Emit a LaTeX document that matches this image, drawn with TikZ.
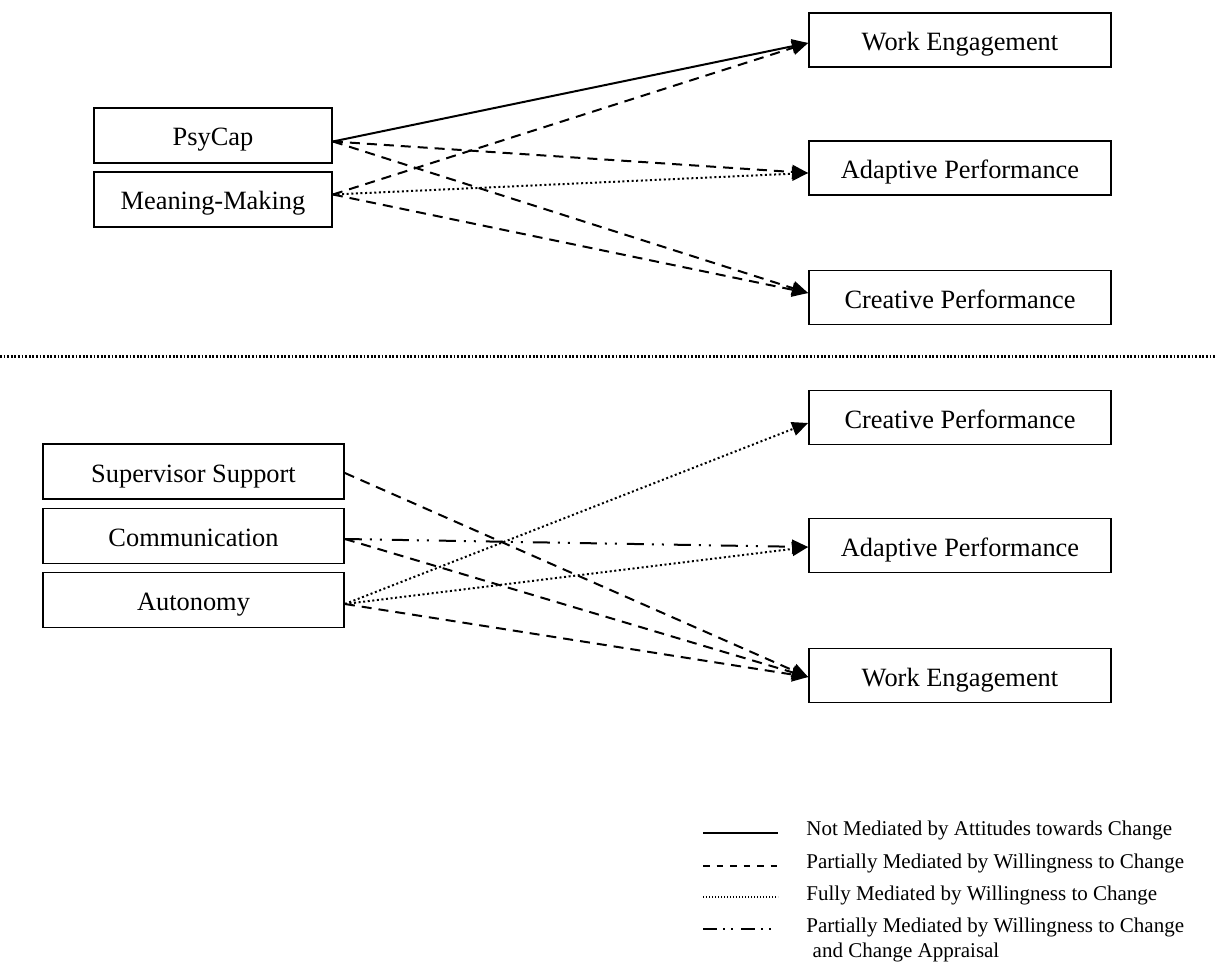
\documentclass[tikz,border=0pt]{standalone}
\usepackage{fontspec}
\setmainfont{Liberation Serif}
\usetikzlibrary{arrows.meta,calc}
\begin{document}
\begin{tikzpicture}[x=0.5pt,y=-0.5pt,
 box/.style={draw,line width=0.9pt,inner sep=0pt,text height=12.5pt,text depth=2pt,font=\fontsize{13.2}{15}\selectfont},
 lbox/.style={box,minimum width=119pt,minimum height=27.5pt},
 rbox/.style={box,minimum width=151pt,minimum height=27pt},
 bbox/.style={box,minimum width=150.5pt,minimum height=27.5pt},
 arr/.style={-{Triangle[length=8pt,width=7pt]}},
 solidln/.style={line width=1pt},
 dashln/.style={line width=1pt,dash pattern=on 5pt off 3.5pt},
 dotln/.style={line width=1pt,dash pattern=on 1pt off 1.3pt},
 dddln/.style={line width=1pt,dash pattern=on 8.5pt off 4pt on 1pt off 4pt on 1pt off 5pt},
 sepln/.style={line width=1.5pt,dash pattern=on 0.9pt off 0.9pt},
 legsolid/.style={line width=1pt},
 legdash/.style={line width=1pt,dash pattern=on 3.25pt off 3.5pt},
 legdot/.style={line width=0.7pt,dash pattern=on 0.6pt off 0.9pt},
 legddd/.style={line width=1pt,dash pattern=on 7pt off 3pt on 1pt off 3pt on 1pt off 4pt},
 legtext/.style={anchor=west,inner sep=0pt,font=\fontsize{10.5}{12.5}\selectfont,align=left}
]
\useasboundingbox (0,0) rectangle (1217,963);

% top section
\node[lbox] (psy) at (213,135.5) {PsyCap};
\node[lbox] (mm) at (213,199.5) {Meaning-Making};
\node[rbox] (we1) at (960,40) {Work Engagement};
\node[rbox] (ap1) at (960,168) {Adaptive Performance};
\node[rbox] (cp1) at (960,297.5) {Creative Performance};

\coordinate (psyo) at ($(psy.east)+(0,6)$);
\coordinate (mmo) at ($(mm.east)+(0,-5)$);
\coordinate (we1i) at ($(we1.west)+(0,3)$);
\coordinate (ap1i) at ($(ap1.west)+(0,5)$);
\coordinate (cp1i) at ($(cp1.west)+(0,-4.5)$);

\draw[arr,solidln] (psyo) -- (we1i);
\draw[arr,dashln] (mmo) -- (we1i);
\draw[arr,dashln] (psyo) -- (ap1i);
\draw[arr,dotln] (mmo) -- (ap1i);
\draw[arr,dashln] (psyo) -- (cp1i);
\draw[arr,dashln] (mmo) -- (cp1i);

% separator
\coordinate (sepL) at (0,356);
\coordinate (sepR) at (1217,356);
\draw[sepln] (sepL) -- (sepR);

% bottom section
\node[bbox] (ss) at (193.5,471.5) {Supervisor Support};
\node[bbox] (com) at (193.5,536) {Communication};
\node[bbox] (aut) at (193.5,600) {Autonomy};
\node[rbox] (cp2) at (960,417.5) {Creative Performance};
\node[rbox] (ap2) at (960,545.5) {Adaptive Performance};
\node[rbox] (we2) at (960,675.5) {Work Engagement};

\coordinate (sso) at ($(ss.east)+(0,1.5)$);
\coordinate (como) at ($(com.east)+(0,3)$);
\coordinate (auo) at ($(aut.east)+(0,4)$);
\coordinate (cp2i) at ($(cp2.west)+(0,5.5)$);
\coordinate (ap2i) at ($(ap2.west)+(0,1.5)$);
\coordinate (we2i) at ($(we2.west)+(0,1.5)$);

\draw[arr,dashln] (sso) -- (we2i);
\draw[arr,dddln] (como) -- (ap2i);
\draw[arr,dashln] (como) -- (we2i);
\draw[arr,dotln] (auo) -- (cp2i);
\draw[arr,dotln] (auo) -- (ap2i);
\draw[arr,dashln] (auo) -- (we2i);

% legend
\coordinate (l1a) at (703,833); \coordinate (l1b) at (778,833);
\coordinate (l2a) at (703,866); \coordinate (l2b) at (778,866);
\coordinate (l3a) at (703,897); \coordinate (l3b) at (778,897);
\coordinate (l4a) at (703,929); \coordinate (l4b) at (778,929);
\draw[legsolid] (l1a) -- (l1b);
\draw[legdash] (l2a) -- (l2b);
\draw[legdot] (l3a) -- (l3b);
\draw[legddd] (l4a) -- (l4b);

\node[legtext] (t1) at (806,830) {Not Mediated by Attitudes towards Change};
\node[legtext] (t2) at (806,863) {Partially Mediated by Willingness to Change};
\node[legtext] (t3) at (806,895) {Fully Mediated by Willingness to Change};
\node[legtext] (t4) at (806,939.5) {Partially Mediated by Willingness to Change\\\hspace*{0.3em}and Change Appraisal};
\end{tikzpicture}
\end{document}
